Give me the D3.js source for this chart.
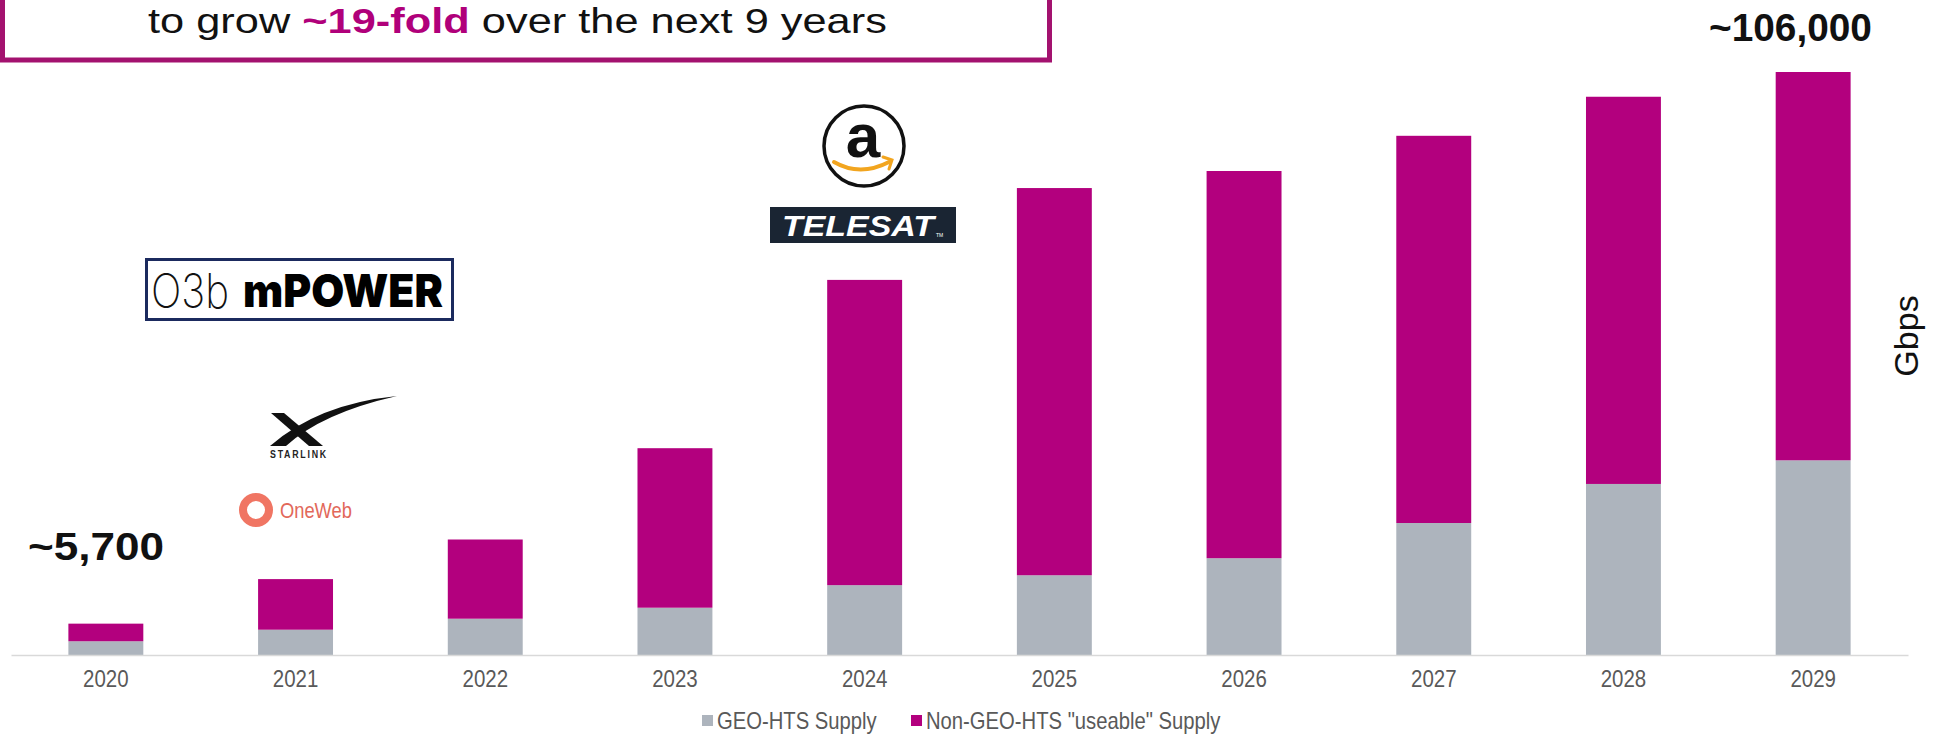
<!DOCTYPE html>
<html lang="en">
<head>
<meta charset="UTF-8">
<title>HTS Supply Growth</title>
<script src="https://d3js.org/d3.v7.min.js"></script>
<style>
  html, body { margin: 0; padding: 0; background: #fff; }
  body { font-family: "Liberation Sans", Arial, sans-serif; }
</style>
</head>
<body>
<svg id="chart" width="1940" height="735"></svg>
<script>
// chart data
const years = ["2020", "2021", "2022", "2023", "2024", "2025", "2026", "2027", "2028", "2029"];
const geoSupply = [2500, 4600, 6600, 8600, 12700, 14500, 17600, 24000, 31100, 35400];
const nonGeoSupply = [3200, 9200, 14400, 29000, 55500, 70400, 70400, 70400, 70400, 70600];
const seriesNames = ["GEO-HTS Supply", "Non-GEO-HTS \"useable\" Supply"];
const seriesColors = ["#adb4bd", "#b3007e"];
const startLabel = "~5,700";
const endLabel = "~106,000";

const svg = d3.select("#chart");
const FONT = "'Liberation Sans', Arial, sans-serif";

// x/y scales
const x = d3.scaleBand().domain(years).range([11, 1908])
    .paddingInner(0.605).paddingOuter(0.3025);
const y = d3.scaleLinear().domain([0, 106000]).range([655, 72]);

// text squeezed horizontally to a given width (the source is condensed)
function fitText(t, ax, ay, width) {
    const len = t.node().getComputedTextLength();
    const s = width ? width / len : 0.88;
    t.attr("x", 0).attr("y", 0)
     .attr("transform", `translate(${ax},${ay}) scale(${s},1)`);
    return t;
}

// title box, cut off at the top of the page
svg.append("rect")
    .attr("x", 2.5).attr("y", -10)
    .attr("width", 1047).attr("height", 70)
    .attr("fill", "#fff")
    .attr("stroke", "#a3126f")
    .attr("stroke-width", 5);

const title = svg.append("text")
    .attr("font-family", FONT)
    .attr("font-size", 35)
    .attr("fill", "#111");
title.append("tspan").text("to grow ");
title.append("tspan").text("~19-fold").attr("font-weight", "bold").attr("fill", "#b0007a");
title.append("tspan").text(" over the next 9 years");
fitText(title, 148, 33, 739);

// stacked bars
const rows = years.map((yr, i) => ({ year: yr, geo: geoSupply[i], nongeo: nonGeoSupply[i] }));
const stack = d3.stack().keys(["geo", "nongeo"])(rows);

svg.append("g").selectAll("g")
    .data(stack)
    .join("g")
    .attr("fill", (d, i) => seriesColors[i])
    .selectAll("rect")
    .data(d => d)
    .join("rect")
    .attr("x", d => x(d.data.year))
    .attr("y", d => y(d[1]))
    .attr("width", x.bandwidth())
    .attr("height", d => y(d[0]) - y(d[1]));

// x axis
const xAxis = svg.append("g")
    .attr("transform", `translate(0,${y(0)})`)
    .call(d3.axisBottom(x).tickSize(0).tickPadding(12));
xAxis.select(".domain").attr("stroke", "#d9d9d9").attr("stroke-width", 1.5);
xAxis.selectAll("text")
    .attr("font-family", FONT)
    .attr("font-size", 23)
    .attr("fill", "#595959")
    .attr("dy", null)
    .attr("y", 32)
    .attr("transform", "scale(0.89,1)");

// callouts on first and last bar
const firstTotal = geoSupply[0] + nonGeoSupply[0];
const lastTotal = geoSupply[9] + nonGeoSupply[9];
fitText(svg.append("text").text(startLabel)
    .attr("font-family", FONT).attr("font-size", 38).attr("font-weight", "bold")
    .attr("fill", "#111"), 28, y(firstTotal) - 64, 136);
fitText(svg.append("text").text(endLabel)
    .attr("font-family", FONT).attr("font-size", 39).attr("font-weight", "bold")
    .attr("fill", "#111"), 1709, y(lastTotal) - 31, 163);

// unit label
svg.append("text").text("Gbps")
    .attr("font-family", FONT).attr("font-size", 34)
    .attr("fill", "#111")
    .attr("text-anchor", "middle")
    .attr("transform", "translate(1918,336) rotate(-90)");

// legend
const legend = svg.append("g");
const legendPos = [702, 911];
seriesNames.forEach((name, i) => {
    legend.append("rect")
        .attr("x", legendPos[i]).attr("y", 715)
        .attr("width", 11).attr("height", 11)
        .attr("fill", seriesColors[i]);
    fitText(legend.append("text").text(name)
        .attr("font-family", FONT).attr("font-size", 23)
        .attr("fill", "#595959"), legendPos[i] + 15, 729, null);
});

// operator logos
// O3b mPOWER
svg.append("rect")
    .attr("x", 146.5).attr("y", 259.5).attr("width", 306).attr("height", 60)
    .attr("fill", "#fff").attr("stroke", "#1b2a5e").attr("stroke-width", 3);
fitText(svg.append("text").text("O3b")
    .attr("font-family", "Inter, Lato, sans-serif").attr("font-size", 48)
    .attr("font-weight", 200).attr("fill", "#111"), 151, 308, 78);
fitText(svg.append("text").text("mPOWER")
    .attr("font-family", "Inter, Lato, sans-serif").attr("font-size", 46)
    .attr("font-weight", 900).attr("fill", "#000"), 243, 307, 200);

// Starlink
svg.append("path")
    .attr("d", "M271,413 L284,413 L323,446 L309,446 Z")
    .attr("fill", "#111");
svg.append("path")
    .attr("d", "M270,446 L286,446 Q322,413 397,396 Q318,404 270,446 Z")
    .attr("fill", "#111");
fitText(svg.append("text").text("STARLINK")
    .attr("font-family", FONT).attr("font-size", 10).attr("font-weight", "bold")
    .attr("letter-spacing", 2).attr("fill", "#222"), 270, 458, 58);

// OneWeb
svg.append("circle")
    .attr("cx", 256).attr("cy", 510).attr("r", 13)
    .attr("fill", "none").attr("stroke", "#f07563").attr("stroke-width", 8);
fitText(svg.append("text").text("OneWeb")
    .attr("font-family", FONT).attr("font-size", 22)
    .attr("fill", "#e2685a"), 280, 518, 72);

// Amazon (Kuiper)
svg.append("circle")
    .attr("cx", 864).attr("cy", 146).attr("r", 40)
    .attr("fill", "#fff").attr("stroke", "#111").attr("stroke-width", 3.5);
svg.append("text").text("a")
    .attr("font-family", FONT).attr("font-size", 62).attr("font-weight", "bold")
    .attr("text-anchor", "middle").attr("fill", "#111")
    .attr("x", 863).attr("y", 157);
svg.append("path")
    .attr("d", "M834,162 Q860,177 889,162")
    .attr("fill", "none").attr("stroke", "#f2a51f").attr("stroke-width", 4)
    .attr("stroke-linecap", "round");
svg.append("path")
    .attr("d", "M883,157 L892,160 L889,169")
    .attr("fill", "none").attr("stroke", "#f2a51f").attr("stroke-width", 3)
    .attr("stroke-linecap", "round");

// Telesat
svg.append("rect")
    .attr("x", 770).attr("y", 207).attr("width", 186).attr("height", 36)
    .attr("fill", "#1a2533");
fitText(svg.append("text").text("TELESAT")
    .attr("font-family", FONT).attr("font-size", 30).attr("font-weight", "bold")
    .attr("font-style", "italic").attr("fill", "#fff"), 782, 236, 152);
svg.append("text").text("TM")
    .attr("font-family", FONT).attr("font-size", 5).attr("fill", "#fff")
    .attr("x", 936).attr("y", 237);
</script>
</body>
</html>
